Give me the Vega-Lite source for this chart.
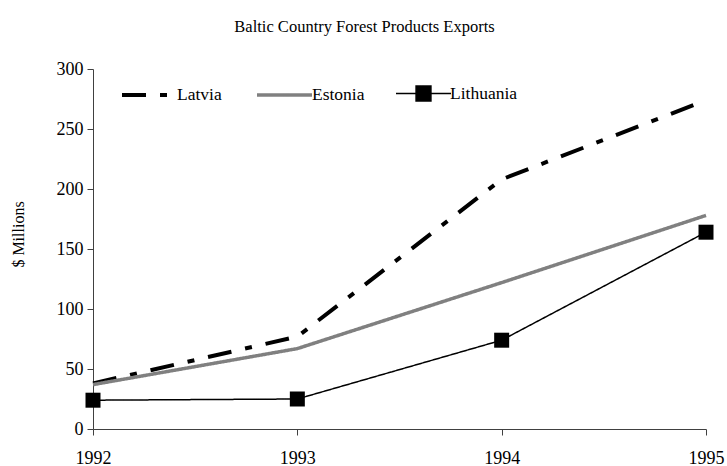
{
  "$schema": "https://vega.github.io/schema/vega-lite/v6.json",
  "width": 613,
  "height": 360,
  "autosize": {"type": "none"},
  "padding": {"left": 93, "top": 69, "right": 21, "bottom": 37},
  "background": "white",
  "title": {
    "text": "Baltic Country Forest Products Exports",
    "font": "Liberation Serif, Times New Roman, serif",
    "fontSize": 16.5,
    "fontWeight": "normal",
    "color": "black",
    "anchor": "middle",
    "frame": "group",
    "dx": -35,
    "offset": 12,
    "baseline": "alphabetic"
  },
  "config": {
    "view": {"stroke": null},
    "font": "Liberation Serif, Times New Roman, serif",
    "axis": {
      "domainColor": "#404040",
      "tickColor": "#404040",
      "labelFont": "Liberation Serif, Times New Roman, serif",
      "labelFontSize": 18,
      "labelColor": "black",
      "titleFont": "Liberation Serif, Times New Roman, serif",
      "titleFontSize": 16,
      "titleFontWeight": "normal",
      "titleColor": "black",
      "grid": false,
      "tickSize": 6
    }
  },
  "data": {
    "values": [
      {"country": "Latvia", "year": 1992, "value": 38},
      {"country": "Latvia", "year": 1993, "value": 77},
      {"country": "Latvia", "year": 1994, "value": 208},
      {"country": "Latvia", "year": 1995, "value": 274},
      {"country": "Estonia", "year": 1992, "value": 37},
      {"country": "Estonia", "year": 1993, "value": 67},
      {"country": "Estonia", "year": 1994, "value": 122},
      {"country": "Estonia", "year": 1995, "value": 178},
      {"country": "Lithuania", "year": 1992, "value": 24},
      {"country": "Lithuania", "year": 1993, "value": 25},
      {"country": "Lithuania", "year": 1994, "value": 74},
      {"country": "Lithuania", "year": 1995, "value": 164}
    ]
  },
  "encoding": {
    "x": {
      "field": "year",
      "type": "quantitative",
      "scale": {"domain": [1992, 1995], "nice": false, "zero": false},
      "axis": {"values": [1992, 1993, 1994, 1995], "format": "d", "title": null, "labelPadding": 14, "labelFlush": false}
    },
    "y": {
      "field": "value",
      "type": "quantitative",
      "scale": {"domain": [0, 300], "nice": false},
      "axis": {"values": [0, 50, 100, 150, 200, 250, 300], "title": "$ Millions", "labelPadding": 4, "titlePadding": 30, "titleY": 165}
    }
  },
  "layer": [
    {
      "mark": {"type": "line"},
      "encoding": {
        "color": {
          "field": "country",
          "type": "nominal",
          "scale": {"domain": ["Latvia", "Estonia", "Lithuania"], "range": ["#000000", "#808080", "#000000"]},
          "legend": {
            "title": null,
            "orient": "none",
            "legendX": 27,
            "legendY": -4,
            "direction": "horizontal",
            "gridAlign": "each",
            "symbolType": "stroke",
            "symbolSize": 3025,
            "labelFont": "Liberation Serif, Times New Roman, serif",
            "labelFontSize": 17.5,
            "labelColor": "black",
            "labelOffset": -2,
            "columnPadding": 28,
            "encode": {
              "symbols": {
                "update": {
                  "shape": {"signal": "datum.value === 'Lithuania' ? 'M-1,0H1M-0.27,-0.27H0.27V0.27H-0.27Z' : 'stroke'"},
                  "fill": {"signal": "datum.value === 'Lithuania' ? '#000000' : 'transparent'"}
                }
              }
            }
          }
        },
        "strokeDash": {
          "field": "country",
          "type": "nominal",
          "scale": {"domain": ["Latvia", "Estonia", "Lithuania"], "range": [[24, 14, 7, 14], [1, 0], [1, 0]]}
        },
        "strokeWidth": {
          "field": "country",
          "type": "nominal",
          "scale": {"type": "ordinal", "domain": ["Latvia", "Estonia", "Lithuania"], "range": [4, 3.5, 1.5]}
        }
      }
    },
    {
      "transform": [{"filter": {"field": "country", "equal": "Lithuania"}}],
      "mark": {"type": "point", "shape": "square", "filled": true, "size": 225, "color": "#000000", "opacity": 1}
    }
  ]
}
